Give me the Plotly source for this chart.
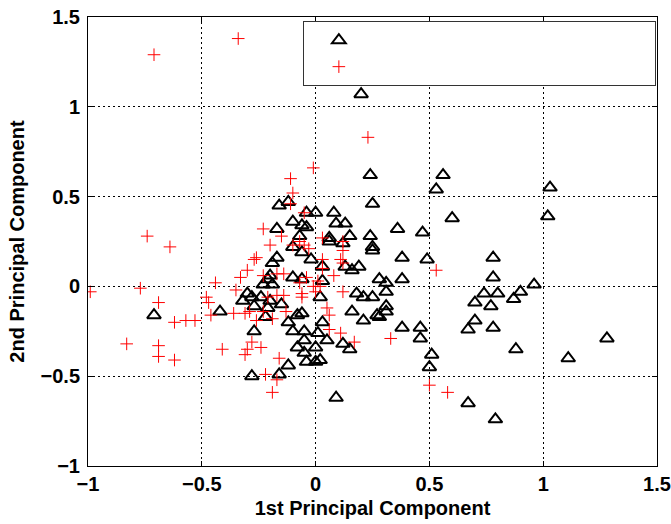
import plotly.graph_objects as go

# ---- data ----
tri_x = [0.20, 0.24, 0.56, 0.53, 1.03, 0.60, 1.02, 0.25, -0.16, -0.12,
         -0.04, 0.00, 0.08, -0.10, -0.06, -0.04, 0.09, 0.13, 0.36, 0.47,
         -0.17, -0.07, 0.06, 0.06, 0.15, 0.24, 0.12, 0.25, 0.25, -0.10,
         -0.06, -0.17, -0.19, -0.02, 0.03, 0.13, 0.16, 0.19, 0.38, 0.49,
         0.78, -0.20, -0.21, -0.23, -0.10, -0.06, 0.03, 0.28, 0.31, 0.38,
         0.78, 0.96, 0.90, 0.31, 0.80, 0.74, 0.87, 0.70, 0.77, 0.31,
         0.31, 0.28, 0.70, 0.38, 0.46, 0.67, 0.78, 0.46, 1.28, 0.88,
         1.11, 0.51, 0.50, 0.67, 0.79, 0.18, -0.30, -0.32, 0.21, 0.25,
         -0.19, -0.28, -0.24, -0.20, -0.15, -0.42, -0.27, -0.22, -0.21, 0.02,
         0.16, 0.21, 0.27, -0.12, -0.08, -0.06, 0.03, -0.27, -0.10, -0.05,
         0.01, 0.05, -0.05, 0.12, 0.15, -0.08, 0.00, -0.05, -0.12, -0.04,
         0.00, 0.02, -0.28, -0.16, 0.09, -0.71]
tri_y = [1.07, 0.62, 0.62, 0.54, 0.55, 0.38, 0.39, 0.46, 0.45, 0.47,
         0.41, 0.41, 0.41, 0.36, 0.34, 0.33, 0.35, 0.35, 0.32, 0.30,
         0.32, 0.28, 0.27, 0.25, 0.28, 0.28, 0.24, 0.22, 0.20, 0.22,
         0.19, 0.16, 0.13, 0.15, 0.11, 0.11, 0.09, 0.11, 0.16, 0.15,
         0.16, 0.06, 0.04, 0.01, 0.05, 0.04, 0.03, 0.04, 0.02, 0.04,
         0.05, 0.01, -0.03, -0.03, -0.04, -0.04, -0.07, -0.09, -0.11, -0.11,
         -0.14, -0.17, -0.19, -0.23, -0.23, -0.24, -0.23, -0.29, -0.29, -0.35,
         -0.40, -0.38, -0.45, -0.65, -0.74, -0.04, -0.04, -0.08, -0.06, -0.06,
         0.01, -0.06, -0.06, -0.08, -0.10, -0.14, -0.11, -0.17, -0.12, -0.06,
         -0.14, -0.19, -0.16, -0.20, -0.16, -0.15, -0.20, -0.25, -0.25, -0.25,
         -0.26, -0.30, -0.30, -0.32, -0.35, -0.34, -0.34, -0.37, -0.44, -0.42,
         -0.42, -0.41, -0.50, -0.49, -0.62, -0.16]

plus_x = [-0.71, -0.34, 0.23, -0.01, -0.11, -0.10, -0.11, -0.05, -0.23, -0.15,
          -0.20, -0.10, -0.05, -0.03, -0.07, 0.03, 0.12, 0.12, -0.27, -0.26,
          -0.30, -0.33, -0.44, -0.35, -0.48, -0.47, -0.74, -0.64, -0.77, -0.99,
          -0.69, -0.62, -0.57, -0.53, -0.83, -0.69, -0.69, -0.62, -0.46, -0.36,
          -0.31, -0.29, -0.26, -0.23, -0.19, -0.28, -0.30, -0.31, -0.24, -0.41,
          -0.16, -0.22, -0.17, -0.19, -0.06, -0.01, 0.02, 0.00, 0.12, 0.05,
          0.06, 0.06, 0.11, 0.17, 0.33, 0.53, 0.50, 0.58, -0.17, -0.14,
          -0.06, -0.13, 0.03, 0.11, 0.03, 0.08, -0.14, -0.17, -0.07, 0.01,
          -0.21, -0.23, -0.04, 0.12]
plus_y = [1.29, 1.38, 0.83, 0.66, 0.60, 0.52, 0.46, 0.41, 0.32, 0.28,
          0.23, 0.23, 0.23, 0.21, 0.25, 0.27, 0.25, 0.20, 0.15, 0.16,
          0.09, 0.05, 0.02, -0.02, -0.06, -0.09, 0.28, 0.22, -0.01, -0.03,
          -0.09, -0.20, -0.19, -0.19, -0.32, -0.33, -0.39, -0.41, -0.16, -0.15,
          -0.15, -0.14, -0.19, -0.14, -0.18, -0.31, -0.35, -0.38, -0.34, -0.35,
          -0.40, -0.49, -0.52, -0.59, -0.04, 0.00, 0.00, -0.03, -0.03, -0.12,
          -0.16, -0.24, -0.26, -0.31, -0.29, 0.09, -0.55, -0.59, -0.05, -0.05,
          -0.06, -0.14, 0.15, 0.15, 0.10, 0.06, 0.07, 0.07, 0.02, 0.03,
          -0.06, 0.06, 0.05, 0.13]

x_ticks = [-1, -0.5, 0, 0.5, 1, 1.5]
x_tick_text = ["\u22121", "\u22120.5", "0", "0.5", "1", "1.5"]
y_ticks = [-1, -0.5, 0, 0.5, 1, 1.5]
y_tick_text = ["\u22121", "\u22120.5", "0", "0.5", "1", "1.5"]

x_title = "1st Principal Component"
y_title = "2nd Principal Component"
legend_pad = "\u00a0" * 55

FONT = "Liberation Sans, Arial, sans-serif"

fig = go.Figure()
fig.add_trace(go.Scatter(
    x=tri_x, y=tri_y, mode="markers", name=legend_pad,
    marker=dict(symbol="triangle-up-open", size=12, color="black",
                line=dict(color="black", width=2)),
))
fig.add_trace(go.Scatter(
    x=plus_x, y=plus_y, mode="markers", name=legend_pad,
    marker=dict(symbol="cross-thin-open", size=9, color="#ff0000",
                line=dict(color="#ff0000", width=1)),
))

axis_common = dict(
    showgrid=True, gridcolor="black", gridwidth=1, griddash="2px,3px",
    zeroline=False, showline=True, linecolor="black", linewidth=1,
    mirror="ticks", ticks="inside", ticklen=5, tickcolor="black",
    tickfont=dict(family=FONT, size=20, color="black", weight="bold"),
)

fig.update_xaxes(range=[-1, 1.5], tickmode="array", tickvals=x_ticks,
                 ticktext=x_tick_text,
                 title=dict(text=x_title, standoff=6,
                            font=dict(family=FONT, size=20, color="black", weight="bold")),
                 **axis_common)
fig.update_yaxes(range=[-1, 1.5], tickmode="array", tickvals=y_ticks,
                 ticktext=y_tick_text, ticklabelstandoff=3,
                 title=dict(text=y_title, standoff=10,
                            font=dict(family=FONT, size=20, color="black", weight="bold")),
                 **axis_common)

fig.update_layout(
    width=671, height=524,
    margin=dict(l=88, r=14, t=17, b=58, autoexpand=False),
    paper_bgcolor="white", plot_bgcolor="white",
    font=dict(family=FONT, color="black"),
    legend=dict(x=0.998, y=0.991, xanchor="right", yanchor="top",
                bgcolor="white", bordercolor="#333333", borderwidth=1,
                font=dict(family=FONT, size=18), itemwidth=60,
                tracegroupgap=0),
    showlegend=True,
)

fig.write_html("out.html",
               config={"displayModeBar": False},
               post_script="document.body.style.margin='0';document.body.style.padding='0';")
